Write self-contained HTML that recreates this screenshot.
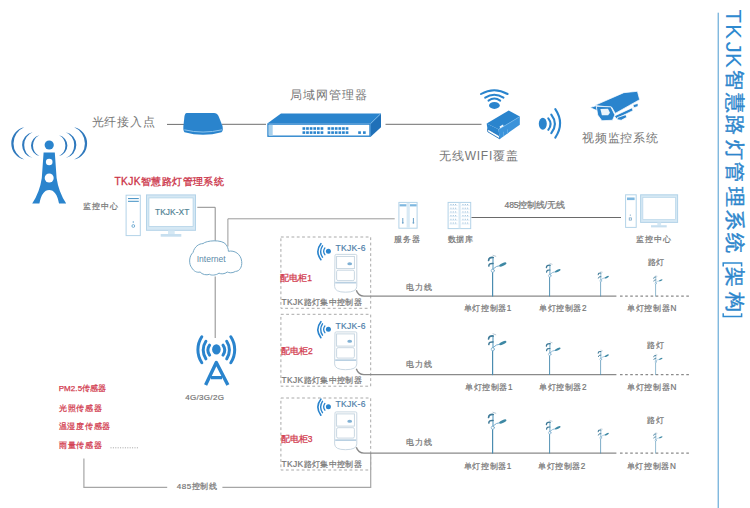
<!DOCTYPE html>
<html><head><meta charset="utf-8"><title>TKJK</title><style>html,body{margin:0;padding:0;background:#fff;width:750px;height:508px;overflow:hidden}</style></head><body>
<svg width="750" height="508" viewBox="0 0 750 508" style="display:block;font-family:'Liberation Sans',sans-serif"><g id="tower">
<path d="M24.20 127.20 A16.62 16.62 0 0 0 24.20 159.60 A17.61 17.61 0 0 1 24.20 127.20 Z" fill="#2f79bd"/><path d="M74.20 127.20 A16.62 16.62 0 0 1 74.20 159.60 A17.61 17.61 0 0 0 74.20 127.20 Z" fill="#2f79bd"/>
<path d="M32.60 132.20 A13.17 13.17 0 0 0 32.60 158.00 A14.11 14.11 0 0 1 32.60 132.20 Z" fill="#2f79bd"/><path d="M65.80 132.20 A13.17 13.17 0 0 1 65.80 158.00 A14.11 14.11 0 0 0 65.80 132.20 Z" fill="#2f79bd"/>
<path d="M39.40 135.20 A10.64 10.64 0 0 0 39.40 156.00 A11.65 11.65 0 0 1 39.40 135.20 Z" fill="#2f79bd"/><path d="M59.00 135.20 A10.64 10.64 0 0 1 59.00 156.00 A11.65 11.65 0 0 0 59.00 135.20 Z" fill="#2f79bd"/>
<circle cx="49.2" cy="145" r="4.6" fill="#2a84cd"/>
<path d="M43.6 152.4 L54.8 152.4 L56.6 178 Q58.6 192 66.2 203.6 L59 203.6 Q56.5 190 49.2 190 Q41.9 190 39.4 203.6 L32.2 203.6 Q39.8 192 41.8 178 Z" fill="#2a84cd"/>
<circle cx="49.2" cy="162" r="3.3" fill="#fff"/><circle cx="49.2" cy="178" r="4.5" fill="#fff"/>
</g>
<path d="M167 124.4 H184 M222 124.3 H266 M385.5 124.3 H481.5" stroke="#6e6e6e" stroke-width="1" fill="none"/>
<path d="M186.5 113 L214 113 Q217 113 218.5 116 L222.5 126 Q223.5 131 221.5 132.2 Q203 137.5 184.5 132.2 Q183 131 183.4 126 L184.5 116 Q185 113 186.5 113 Z" fill="#2a84cd"/>
<path d="M184.3 129.8 Q203 134.3 222 129.8" stroke="#8cc4ee" stroke-width="1" fill="none"/>
<polygon points="281,113.4 381,113.4 370.4,123.4 267.3,123.4" fill="#2a84cd"/>
<polygon points="370.4,123.4 381,113.4 381,127.2 370.4,136.9" fill="#1f70b8"/>
<rect x="268" y="124.1" width="102" height="12.1" fill="#fff" stroke="#2a84cd" stroke-width="1.4"/>
<path d="M370.6 123.6 L380.6 113.8" stroke="#7fc0f0" stroke-width="0.8"/>
<rect x="268.7" y="124.8" width="4" height="10.9" fill="#a8d0ec"/>
<g fill="#2a84cd"><rect x="302.50" y="127.2" width="2.7" height="2.6"/><rect x="302.50" y="131.3" width="2.7" height="2.6"/><rect x="306.12" y="127.2" width="2.7" height="2.6"/><rect x="306.12" y="131.3" width="2.7" height="2.6"/><rect x="309.74" y="127.2" width="2.7" height="2.6"/><rect x="309.74" y="131.3" width="2.7" height="2.6"/><rect x="313.36" y="127.2" width="2.7" height="2.6"/><rect x="313.36" y="131.3" width="2.7" height="2.6"/><rect x="316.98" y="127.2" width="2.7" height="2.6"/><rect x="316.98" y="131.3" width="2.7" height="2.6"/><rect x="320.60" y="127.2" width="2.7" height="2.6"/><rect x="320.60" y="131.3" width="2.7" height="2.6"/><rect x="327.60" y="127.2" width="2.7" height="2.6"/><rect x="327.60" y="131.3" width="2.7" height="2.6"/><rect x="331.22" y="127.2" width="2.7" height="2.6"/><rect x="331.22" y="131.3" width="2.7" height="2.6"/><rect x="334.84" y="127.2" width="2.7" height="2.6"/><rect x="334.84" y="131.3" width="2.7" height="2.6"/><rect x="338.46" y="127.2" width="2.7" height="2.6"/><rect x="338.46" y="131.3" width="2.7" height="2.6"/><rect x="342.08" y="127.2" width="2.7" height="2.6"/><rect x="342.08" y="131.3" width="2.7" height="2.6"/><rect x="345.70" y="127.2" width="2.7" height="2.6"/><rect x="345.70" y="131.3" width="2.7" height="2.6"/><rect x="358.2" y="131.3" width="2.7" height="2.6"/><rect x="363" y="131.3" width="2.7" height="2.6"/></g>
<g fill="none" stroke="#2a84cd" stroke-width="2" stroke-linecap="round"><path d="M481 94 Q494.2 86.6 507.6 94"/><path d="M485.2 97.6 Q494.2 92 503.5 97.6"/><path d="M488.5 100.6 Q494.4 96.6 500.2 100.6"/></g>
<ellipse cx="494.4" cy="105.4" rx="5.4" ry="3.5" fill="#2a84cd"/>
<polygon points="486.7,123.4 487.8,131.8 499.8,138.9 498.5,129.3" fill="#2a84cd"/>
<polygon points="487.6,128.9 499.3,135.8 499.8,138.9 487.8,131.8" fill="#fff" stroke="#1f70b8" stroke-width="0.8" stroke-linejoin="round"/>
<polygon points="498.5,129.3 519.8,116.6 519.8,124.8 499.8,138.9" fill="#3b93da"/>
<polygon points="486.7,123.4 508.7,110.6 519.8,116.6 498.5,129.3" fill="#2a84cd"/>
<path d="M498.6 129.4 L519.6 116.8" stroke="#7cbdf0" stroke-width="0.6"/>
<polygon points="499.6,126.4 503,124.4 503.6,126.2 500.2,128.2" fill="#eef6fc"/>
<path d="M503.5 131.8 V136.2 M507.5 129.4 V133.8" stroke="#6fb2e6" stroke-width="0.7"/>
<ellipse cx="542.8" cy="123.7" rx="4" ry="6" fill="#2a84cd"/>
<g fill="none" stroke="#2a84cd" stroke-width="2.1" stroke-linecap="round"><path d="M548.3 118.4 Q552.9 124.1 548.3 129.8"/><path d="M551.3 114.6 Q558.5 123.9 551.3 133.2"/><path d="M555.3 109.2 Q564.9 123.4 555.3 137.6"/></g>
<g transform="translate(588,88) scale(0.07467)" fill="#2a84cd" stroke="#fff" stroke-width="10" stroke-linejoin="round"><polygon points="99,229 480,62 662,44 692,156 365,340 318,258 120,238"/><polygon points="355,374 593,264 601,304 378,412"/><polygon points="603,224 670,206 670,248 612,264"/><polygon points="392,396 505,358 520,392 445,432 392,424"/><polygon points="26,262 114,236 128,306"/><polygon points="111,245 306,252 360,360 328,432 186,438 130,362"/><polygon points="166,280 268,278 294,330 270,364 186,366" fill="#e9f4fc" stroke="none"/></g>
<line x1="718.2" y1="12.7" x2="718.2" y2="508" stroke="#4a9ad0" stroke-width="1"/>
<text transform="translate(726.4,0) rotate(90)" font-size="22" fill="#2f8ad0"><tspan x="9.4" y="0">T</tspan><tspan x="24.3" y="0">K</tspan><tspan x="41.65" y="0">J</tspan><tspan x="53.1" y="0">K</tspan></text>
<text transform="translate(728.4,0) rotate(90)" font-size="20.4" fill="#2d86cc" stroke="#2d86cc" stroke-width="0.45"><tspan x="69.6" y="0">智</tspan><tspan x="93.0" y="0">慧</tspan><tspan x="114.8" y="0">路</tspan><tspan x="139.9" y="0">灯</tspan><tspan x="162.0" y="0">管</tspan><tspan x="187.3" y="0">理</tspan><tspan x="209.8" y="0">系</tspan><tspan x="233.3" y="0">统</tspan><tspan x="266.7" y="0">架</tspan><tspan x="292.4" y="0">构</tspan></text>
<path d="M723.2 266.6 V263.1 H741.6 V266.6 M723.2 313.2 V316.6 H741.6 V313.2" fill="none" stroke="#2f8ad0" stroke-width="1.5"/>
<rect x="126.1" y="195.2" width="14.2" height="40.4" fill="#fff" stroke="#b3d3e8" stroke-width="1"/>
<path d="M128 198.6 H138.8 M128 201.3 H138.8" stroke="#3f8fc4" stroke-width="1"/>
<circle cx="133.3" cy="222" r="0.8" fill="#6aa8d0"/><circle cx="133.3" cy="226" r="1.4" fill="none" stroke="#6aa8d0" stroke-width="0.9"/>
<rect x="146.5" y="194.9" width="49" height="35.4" fill="#d5e8f4" stroke="#b3d3e8" stroke-width="1"/>
<rect x="148.9" y="197.9" width="44.2" height="28.6" fill="#fff" stroke="#b3d3e8" stroke-width="0.8"/>
<rect x="168" y="230.5" width="6.7" height="3.6" fill="#d5e8f4"/><rect x="160.7" y="234" width="20.6" height="2.7" fill="#c7dfef"/>
<path d="M197.3 207.3 H215.2 V241.5 M215.2 276.5 V338" stroke="#8c8c8c" stroke-width="1" fill="none"/>
<path d="M227.9 246.5 V218.8 H394.7" stroke="#9a9a9a" stroke-width="1" fill="none"/>
<path d="M191.8 267.8 C188.5 264 189 256 193 252.5 C194.5 246.5 199 243.6 203 243.6 C206 240.5 222 239 226 244.5 C227.5 246.5 228.4 249 228.4 251.3 C234.5 250 241 254 241.7 261.5 C242.3 267 239.5 271.4 235.5 271.4 C232 273.5 229 272.8 227.3 272 C224.5 274.2 221 274.3 219 273.1 C216 275.5 211 275.5 209.5 274.3 C206.5 275.5 202 274.5 200.1 272 C197 273 193.5 271 191.8 267.8 Z" fill="#fff" stroke="#78a9c6" stroke-width="1"/>
<ellipse cx="216.4" cy="349.4" rx="4.3" ry="5.2" fill="#2a84cd"/>
<path d="M209.60 345.10 A8.61 8.61 0 0 0 209.60 355.10" fill="none" stroke="#2a84cd" stroke-width="3.0" stroke-linecap="round"/>
<path d="M223.00 345.10 A8.61 8.61 0 0 1 223.00 355.10" fill="none" stroke="#2a84cd" stroke-width="3.0" stroke-linecap="round"/>
<path d="M205.90 341.25 A15.69 15.69 0 0 0 205.90 358.85" fill="none" stroke="#2a84cd" stroke-width="3.0" stroke-linecap="round"/>
<path d="M226.70 341.25 A15.69 15.69 0 0 1 226.70 358.85" fill="none" stroke="#2a84cd" stroke-width="3.0" stroke-linecap="round"/>
<path d="M201.80 336.75 A23.62 23.62 0 0 0 201.80 362.75" fill="none" stroke="#2a84cd" stroke-width="3.0" stroke-linecap="round"/>
<path d="M230.80 336.75 A23.62 23.62 0 0 1 230.80 362.75" fill="none" stroke="#2a84cd" stroke-width="3.0" stroke-linecap="round"/>
<path d="M205.6 385 L216.3 362.5 L227.9 385 M211 377.6 H222" fill="none" stroke="#2a84cd" stroke-width="3.4" stroke-linejoin="round"/>
<line x1="110.5" y1="447.8" x2="138.6" y2="447.8" stroke="#999" stroke-width="0.9" stroke-dasharray="1 1.4"/>
<path d="M83.9 458.4 V487.4 H167.2 M222.4 487.4 H370.7 V453" stroke="#a6a6a6" stroke-width="1.2" fill="none"/>
<rect x="398.9" y="202.4" width="18.2" height="25.8" fill="#fff" stroke="#b3d3e8" stroke-width="1"/>
<rect x="406.6" y="202.9" width="3.2" height="25" fill="#d9eaf5"/>
<rect x="399.6" y="204.2" width="6.8" height="2.2" fill="#7fb8e0"/><rect x="410" y="204.2" width="6.6" height="2.2" fill="#7fb8e0"/>
<path d="M402.8 218 V222.5 M413.4 218 V222.5" stroke="#6aa0c8" stroke-width="1"/>
<circle cx="402.8" cy="222.8" r="0.9" fill="#6aa0c8"/><circle cx="413.4" cy="222.8" r="0.9" fill="#6aa0c8"/>
<rect x="448.1" y="202.4" width="22.6" height="26.2" fill="#fff" stroke="#b3d3e8" stroke-width="1"/>
<rect x="458.5" y="202.9" width="2.2" height="25.4" fill="#d9eaf5"/>
<g stroke="#c9dff0" stroke-width="0.6"><path d="M449.5 205.5 H457.5 M461.5 205.5 H469.5" /><path d="M449.5 209.2 H457.5 M461.5 209.2 H469.5" /><path d="M449.5 212.9 H457.5 M461.5 212.9 H469.5" /><path d="M449.5 216.6 H457.5 M461.5 216.6 H469.5" /><path d="M449.5 220.3 H457.5 M461.5 220.3 H469.5" /><path d="M449.5 224.0 H457.5 M461.5 224.0 H469.5" /></g>
<g fill="#8ab4d4"><rect x="450.5" y="204.0" width="0.9" height="1" /><rect x="452.8" y="204.0" width="0.9" height="1" /><rect x="455.2" y="204.0" width="0.9" height="1" /><rect x="462.5" y="204.0" width="0.9" height="1" /><rect x="464.8" y="204.0" width="0.9" height="1" /><rect x="467.2" y="204.0" width="0.9" height="1" /><rect x="450.5" y="207.7" width="0.9" height="1" /><rect x="452.8" y="207.7" width="0.9" height="1" /><rect x="455.2" y="207.7" width="0.9" height="1" /><rect x="462.5" y="207.7" width="0.9" height="1" /><rect x="464.8" y="207.7" width="0.9" height="1" /><rect x="467.2" y="207.7" width="0.9" height="1" /><rect x="450.5" y="211.4" width="0.9" height="1" /><rect x="452.8" y="211.4" width="0.9" height="1" /><rect x="455.2" y="211.4" width="0.9" height="1" /><rect x="462.5" y="211.4" width="0.9" height="1" /><rect x="464.8" y="211.4" width="0.9" height="1" /><rect x="467.2" y="211.4" width="0.9" height="1" /><rect x="450.5" y="215.1" width="0.9" height="1" /><rect x="452.8" y="215.1" width="0.9" height="1" /><rect x="455.2" y="215.1" width="0.9" height="1" /><rect x="462.5" y="215.1" width="0.9" height="1" /><rect x="464.8" y="215.1" width="0.9" height="1" /><rect x="467.2" y="215.1" width="0.9" height="1" /><rect x="450.5" y="218.8" width="0.9" height="1" /><rect x="452.8" y="218.8" width="0.9" height="1" /><rect x="455.2" y="218.8" width="0.9" height="1" /><rect x="462.5" y="218.8" width="0.9" height="1" /><rect x="464.8" y="218.8" width="0.9" height="1" /><rect x="467.2" y="218.8" width="0.9" height="1" /><rect x="450.5" y="222.5" width="0.9" height="1" /><rect x="452.8" y="222.5" width="0.9" height="1" /><rect x="455.2" y="222.5" width="0.9" height="1" /><rect x="462.5" y="222.5" width="0.9" height="1" /><rect x="464.8" y="222.5" width="0.9" height="1" /><rect x="467.2" y="222.5" width="0.9" height="1" /></g>
<path d="M471.5 217.5 H621" stroke="#6a6a6a" stroke-width="1" fill="none"/>
<rect x="625.6" y="194.8" width="10.6" height="32.6" fill="#fff" stroke="#b3d3e8" stroke-width="1"/>
<rect x="627" y="197.5" width="7.6" height="2.6" fill="#7fb8e0"/>
<circle cx="630.3" cy="215.1" r="0.6" fill="#6a9cc0"/><rect x="629.2" y="217.9" width="2.2" height="2.2" fill="none" stroke="#6a9cc0" stroke-width="0.7"/>
<rect x="640.6" y="194.8" width="37" height="27.6" fill="#d5e8f4" stroke="#b3d3e8" stroke-width="1"/>
<rect x="642.9" y="197.6" width="32.4" height="21.8" fill="#fff" stroke="#b3d3e8" stroke-width="0.6"/>
<rect x="657.3" y="222.5" width="3.8" height="3" fill="#d5e8f4"/><rect x="651" y="225.2" width="15.7" height="2.2" fill="#c7dfef"/>
<rect x="280.9" y="237" width="89.8" height="71.3" fill="none" stroke="#a9a9a9" stroke-width="1" stroke-dasharray="2.8 2.5"/>
<rect x="280.9" y="314.3" width="89.8" height="71.9" fill="none" stroke="#a9a9a9" stroke-width="1" stroke-dasharray="2.8 2.5"/>
<rect x="280.9" y="398" width="89.8" height="72.0" fill="none" stroke="#a9a9a9" stroke-width="1" stroke-dasharray="2.8 2.5"/>
<circle cx="328.4" cy="251.3" r="2.5" fill="#2a84cd"/>
<g fill="none" stroke="#2a84cd" stroke-linecap="round"><path d="M324.9 247.9 Q322.4 251.3 324.9 254.70000000000002" stroke-width="1.3"/><path d="M322.5 245.8 Q318.8 251.3 322.5 257.2" stroke-width="1.4"/><path d="M320.9 243.70000000000002 Q314.8 251.3 320.9 259.7" stroke-width="1.6"/></g>
<g fill="none" stroke="#c3d3df" stroke-width="0.9"><path d="M335 255.4 Q335 254.4 336.4 254.4 H355.4 Q356.8 254.4 356.8 255.4 V286.4 Q356.8 292.2 345.6 292.2 Q334.6 292.2 334.6 286.4 Z" fill="#fff"/><rect x="336.6" y="256.4" width="17.8" height="12.2"/><rect x="336.6" y="270.2" width="17.8" height="10.4" rx="1.5"/></g>
<rect x="335.2" y="281.8" width="21" height="1.7" fill="#b9d0e2"/>
<ellipse cx="349.7" cy="263.8" rx="2.4" ry="1.5" fill="#7fb0d4"/>
<path d="M356.3 290.3 Q358.3 296.1 364 296.1 H616.4" fill="none" stroke="#8a8a8a" stroke-width="1.4"/>
<line x1="620" y1="296.1" x2="691" y2="296.1" stroke="#8a8a8a" stroke-width="1.4" stroke-dasharray="2.6 2.5"/>
<circle cx="328.4" cy="329.3" r="2.5" fill="#2a84cd"/>
<g fill="none" stroke="#2a84cd" stroke-linecap="round"><path d="M324.9 325.90000000000003 Q322.4 329.3 324.9 332.7" stroke-width="1.3"/><path d="M322.5 323.8 Q318.8 329.3 322.5 335.2" stroke-width="1.4"/><path d="M320.9 321.7 Q314.8 329.3 320.9 337.7" stroke-width="1.6"/></g>
<g fill="none" stroke="#c3d3df" stroke-width="0.9"><path d="M335 332.9 Q335 331.9 336.4 331.9 H355.4 Q356.8 331.9 356.8 332.9 V363.9 Q356.8 369.7 345.6 369.7 Q334.6 369.7 334.6 363.9 Z" fill="#fff"/><rect x="336.6" y="333.9" width="17.8" height="12.2"/><rect x="336.6" y="347.7" width="17.8" height="10.4" rx="1.5"/></g>
<rect x="335.2" y="359.29999999999995" width="21" height="1.7" fill="#b9d0e2"/>
<ellipse cx="349.7" cy="341.29999999999995" rx="2.4" ry="1.5" fill="#7fb0d4"/>
<path d="M356.3 368.8 Q358.3 374.6 364 374.6 H616.4" fill="none" stroke="#8a8a8a" stroke-width="1.4"/>
<line x1="620" y1="374.6" x2="691" y2="374.6" stroke="#8a8a8a" stroke-width="1.4" stroke-dasharray="2.6 2.5"/>
<circle cx="328.4" cy="406.8" r="2.5" fill="#2a84cd"/>
<g fill="none" stroke="#2a84cd" stroke-linecap="round"><path d="M324.9 403.40000000000003 Q322.4 406.8 324.9 410.2" stroke-width="1.3"/><path d="M322.5 401.3 Q318.8 406.8 322.5 412.7" stroke-width="1.4"/><path d="M320.9 399.2 Q314.8 406.8 320.9 415.2" stroke-width="1.6"/></g>
<g fill="none" stroke="#c3d3df" stroke-width="0.9"><path d="M335 412.9 Q335 411.9 336.4 411.9 H355.4 Q356.8 411.9 356.8 412.9 V443.9 Q356.8 449.7 345.6 449.7 Q334.6 449.7 334.6 443.9 Z" fill="#fff"/><rect x="336.6" y="413.9" width="17.8" height="12.2"/><rect x="336.6" y="427.7" width="17.8" height="10.4" rx="1.5"/></g>
<rect x="335.2" y="439.29999999999995" width="21" height="1.7" fill="#b9d0e2"/>
<ellipse cx="349.7" cy="421.29999999999995" rx="2.4" ry="1.5" fill="#7fb0d4"/>
<path d="M356.3 447.3 Q358.3 453.1 364 453.1 H616.4" fill="none" stroke="#8a8a8a" stroke-width="1.4"/>
<line x1="620" y1="453.1" x2="691" y2="453.1" stroke="#8a8a8a" stroke-width="1.4" stroke-dasharray="2.6 2.5"/>
<g transform="translate(492.6,296.1) scale(1.0)" fill="none" stroke-linecap="round"><path d="M0 0 V-23.4" stroke="#4a8cb0" stroke-width="1.2"/><circle cx="0.2" cy="-25.4" r="1.6" stroke="#7aaccc" stroke-width="0.8"/><path d="M0.4 -27 V-38.4" stroke="#5a9cc0" stroke-width="1.1"/><path d="M0.6 -38.6 Q-3.8 -39 -4 -35.6" stroke="#3f7a98" stroke-width="1.7"/><path d="M0.4 -32.6 Q-3.6 -33 -3.8 -30" stroke="#3f7a98" stroke-width="1.5"/><path d="M0.4 -40.8 L3.2 -39.8" stroke="#b8c8d4" stroke-width="1"/><path d="M0.8 -27.4 Q3.8 -30.4 7 -30.4" stroke="#7aaccc" stroke-width="1"/><ellipse cx="10.2" cy="-31.6" rx="3.9" ry="1.35" transform="rotate(-24 10.2 -31.6)" fill="#3d88a4" stroke="none"/></g>
<g transform="translate(549.6,296.1) scale(0.8)" fill="none" stroke-linecap="round"><path d="M0 0 V-23.4" stroke="#4a8cb0" stroke-width="1.2"/><circle cx="0.2" cy="-25.4" r="1.6" stroke="#7aaccc" stroke-width="0.8"/><path d="M0.4 -27 V-38.4" stroke="#5a9cc0" stroke-width="1.1"/><path d="M0.6 -38.6 Q-3.8 -39 -4 -35.6" stroke="#3f7a98" stroke-width="1.7"/><path d="M0.4 -32.6 Q-3.6 -33 -3.8 -30" stroke="#3f7a98" stroke-width="1.5"/><path d="M0.4 -40.8 L3.2 -39.8" stroke="#b8c8d4" stroke-width="1"/><path d="M0.8 -27.4 Q3.8 -30.4 7 -30.4" stroke="#7aaccc" stroke-width="1"/><ellipse cx="10.2" cy="-31.6" rx="3.9" ry="1.35" transform="rotate(-24 10.2 -31.6)" fill="#3d88a4" stroke="none"/></g>
<g transform="translate(600.6,296.1) scale(0.6)" fill="none" stroke-linecap="round"><path d="M0 0 V-23.4" stroke="#4a8cb0" stroke-width="1.2"/><circle cx="0.2" cy="-25.4" r="1.6" stroke="#7aaccc" stroke-width="0.8"/><path d="M0.4 -27 V-38.4" stroke="#5a9cc0" stroke-width="1.1"/><path d="M0.6 -38.6 Q-3.8 -39 -4 -35.6" stroke="#3f7a98" stroke-width="1.7"/><path d="M0.4 -32.6 Q-3.6 -33 -3.8 -30" stroke="#3f7a98" stroke-width="1.5"/><path d="M0.4 -40.8 L3.2 -39.8" stroke="#b8c8d4" stroke-width="1"/><path d="M0.8 -27.4 Q3.8 -30.4 7 -30.4" stroke="#7aaccc" stroke-width="1"/><ellipse cx="10.2" cy="-31.6" rx="3.9" ry="1.35" transform="rotate(-24 10.2 -31.6)" fill="#3d88a4" stroke="none"/></g>
<g transform="translate(655.6,296.1) scale(0.5)" fill="none" stroke-linecap="round"><path d="M0 0 V-23.4" stroke="#4a8cb0" stroke-width="1.2"/><circle cx="0.2" cy="-25.4" r="1.6" stroke="#7aaccc" stroke-width="0.8"/><path d="M0.4 -27 V-38.4" stroke="#5a9cc0" stroke-width="1.1"/><path d="M0.6 -38.6 Q-3.8 -39 -4 -35.6" stroke="#3f7a98" stroke-width="1.7"/><path d="M0.4 -32.6 Q-3.6 -33 -3.8 -30" stroke="#3f7a98" stroke-width="1.5"/><path d="M0.4 -40.8 L3.2 -39.8" stroke="#b8c8d4" stroke-width="1"/><path d="M0.8 -27.4 Q3.8 -30.4 7 -30.4" stroke="#7aaccc" stroke-width="1"/><ellipse cx="10.2" cy="-31.6" rx="3.9" ry="1.35" transform="rotate(-24 10.2 -31.6)" fill="#3d88a4" stroke="none"/></g>
<g transform="translate(492.6,374.6) scale(1.0)" fill="none" stroke-linecap="round"><path d="M0 0 V-23.4" stroke="#4a8cb0" stroke-width="1.2"/><circle cx="0.2" cy="-25.4" r="1.6" stroke="#7aaccc" stroke-width="0.8"/><path d="M0.4 -27 V-38.4" stroke="#5a9cc0" stroke-width="1.1"/><path d="M0.6 -38.6 Q-3.8 -39 -4 -35.6" stroke="#3f7a98" stroke-width="1.7"/><path d="M0.4 -32.6 Q-3.6 -33 -3.8 -30" stroke="#3f7a98" stroke-width="1.5"/><path d="M0.4 -40.8 L3.2 -39.8" stroke="#b8c8d4" stroke-width="1"/><path d="M0.8 -27.4 Q3.8 -30.4 7 -30.4" stroke="#7aaccc" stroke-width="1"/><ellipse cx="10.2" cy="-31.6" rx="3.9" ry="1.35" transform="rotate(-24 10.2 -31.6)" fill="#3d88a4" stroke="none"/></g>
<g transform="translate(549.6,374.6) scale(0.8)" fill="none" stroke-linecap="round"><path d="M0 0 V-23.4" stroke="#4a8cb0" stroke-width="1.2"/><circle cx="0.2" cy="-25.4" r="1.6" stroke="#7aaccc" stroke-width="0.8"/><path d="M0.4 -27 V-38.4" stroke="#5a9cc0" stroke-width="1.1"/><path d="M0.6 -38.6 Q-3.8 -39 -4 -35.6" stroke="#3f7a98" stroke-width="1.7"/><path d="M0.4 -32.6 Q-3.6 -33 -3.8 -30" stroke="#3f7a98" stroke-width="1.5"/><path d="M0.4 -40.8 L3.2 -39.8" stroke="#b8c8d4" stroke-width="1"/><path d="M0.8 -27.4 Q3.8 -30.4 7 -30.4" stroke="#7aaccc" stroke-width="1"/><ellipse cx="10.2" cy="-31.6" rx="3.9" ry="1.35" transform="rotate(-24 10.2 -31.6)" fill="#3d88a4" stroke="none"/></g>
<g transform="translate(600.6,374.6) scale(0.6)" fill="none" stroke-linecap="round"><path d="M0 0 V-23.4" stroke="#4a8cb0" stroke-width="1.2"/><circle cx="0.2" cy="-25.4" r="1.6" stroke="#7aaccc" stroke-width="0.8"/><path d="M0.4 -27 V-38.4" stroke="#5a9cc0" stroke-width="1.1"/><path d="M0.6 -38.6 Q-3.8 -39 -4 -35.6" stroke="#3f7a98" stroke-width="1.7"/><path d="M0.4 -32.6 Q-3.6 -33 -3.8 -30" stroke="#3f7a98" stroke-width="1.5"/><path d="M0.4 -40.8 L3.2 -39.8" stroke="#b8c8d4" stroke-width="1"/><path d="M0.8 -27.4 Q3.8 -30.4 7 -30.4" stroke="#7aaccc" stroke-width="1"/><ellipse cx="10.2" cy="-31.6" rx="3.9" ry="1.35" transform="rotate(-24 10.2 -31.6)" fill="#3d88a4" stroke="none"/></g>
<g transform="translate(655.6,374.6) scale(0.5)" fill="none" stroke-linecap="round"><path d="M0 0 V-23.4" stroke="#4a8cb0" stroke-width="1.2"/><circle cx="0.2" cy="-25.4" r="1.6" stroke="#7aaccc" stroke-width="0.8"/><path d="M0.4 -27 V-38.4" stroke="#5a9cc0" stroke-width="1.1"/><path d="M0.6 -38.6 Q-3.8 -39 -4 -35.6" stroke="#3f7a98" stroke-width="1.7"/><path d="M0.4 -32.6 Q-3.6 -33 -3.8 -30" stroke="#3f7a98" stroke-width="1.5"/><path d="M0.4 -40.8 L3.2 -39.8" stroke="#b8c8d4" stroke-width="1"/><path d="M0.8 -27.4 Q3.8 -30.4 7 -30.4" stroke="#7aaccc" stroke-width="1"/><ellipse cx="10.2" cy="-31.6" rx="3.9" ry="1.35" transform="rotate(-24 10.2 -31.6)" fill="#3d88a4" stroke="none"/></g>
<g transform="translate(492.6,453.1) scale(1.0)" fill="none" stroke-linecap="round"><path d="M0 0 V-23.4" stroke="#4a8cb0" stroke-width="1.2"/><circle cx="0.2" cy="-25.4" r="1.6" stroke="#7aaccc" stroke-width="0.8"/><path d="M0.4 -27 V-38.4" stroke="#5a9cc0" stroke-width="1.1"/><path d="M0.6 -38.6 Q-3.8 -39 -4 -35.6" stroke="#3f7a98" stroke-width="1.7"/><path d="M0.4 -32.6 Q-3.6 -33 -3.8 -30" stroke="#3f7a98" stroke-width="1.5"/><path d="M0.4 -40.8 L3.2 -39.8" stroke="#b8c8d4" stroke-width="1"/><path d="M0.8 -27.4 Q3.8 -30.4 7 -30.4" stroke="#7aaccc" stroke-width="1"/><ellipse cx="10.2" cy="-31.6" rx="3.9" ry="1.35" transform="rotate(-24 10.2 -31.6)" fill="#3d88a4" stroke="none"/></g>
<g transform="translate(549.6,453.1) scale(0.8)" fill="none" stroke-linecap="round"><path d="M0 0 V-23.4" stroke="#4a8cb0" stroke-width="1.2"/><circle cx="0.2" cy="-25.4" r="1.6" stroke="#7aaccc" stroke-width="0.8"/><path d="M0.4 -27 V-38.4" stroke="#5a9cc0" stroke-width="1.1"/><path d="M0.6 -38.6 Q-3.8 -39 -4 -35.6" stroke="#3f7a98" stroke-width="1.7"/><path d="M0.4 -32.6 Q-3.6 -33 -3.8 -30" stroke="#3f7a98" stroke-width="1.5"/><path d="M0.4 -40.8 L3.2 -39.8" stroke="#b8c8d4" stroke-width="1"/><path d="M0.8 -27.4 Q3.8 -30.4 7 -30.4" stroke="#7aaccc" stroke-width="1"/><ellipse cx="10.2" cy="-31.6" rx="3.9" ry="1.35" transform="rotate(-24 10.2 -31.6)" fill="#3d88a4" stroke="none"/></g>
<g transform="translate(600.6,453.1) scale(0.6)" fill="none" stroke-linecap="round"><path d="M0 0 V-23.4" stroke="#4a8cb0" stroke-width="1.2"/><circle cx="0.2" cy="-25.4" r="1.6" stroke="#7aaccc" stroke-width="0.8"/><path d="M0.4 -27 V-38.4" stroke="#5a9cc0" stroke-width="1.1"/><path d="M0.6 -38.6 Q-3.8 -39 -4 -35.6" stroke="#3f7a98" stroke-width="1.7"/><path d="M0.4 -32.6 Q-3.6 -33 -3.8 -30" stroke="#3f7a98" stroke-width="1.5"/><path d="M0.4 -40.8 L3.2 -39.8" stroke="#b8c8d4" stroke-width="1"/><path d="M0.8 -27.4 Q3.8 -30.4 7 -30.4" stroke="#7aaccc" stroke-width="1"/><ellipse cx="10.2" cy="-31.6" rx="3.9" ry="1.35" transform="rotate(-24 10.2 -31.6)" fill="#3d88a4" stroke="none"/></g>
<g transform="translate(655.6,453.1) scale(0.5)" fill="none" stroke-linecap="round"><path d="M0 0 V-23.4" stroke="#4a8cb0" stroke-width="1.2"/><circle cx="0.2" cy="-25.4" r="1.6" stroke="#7aaccc" stroke-width="0.8"/><path d="M0.4 -27 V-38.4" stroke="#5a9cc0" stroke-width="1.1"/><path d="M0.6 -38.6 Q-3.8 -39 -4 -35.6" stroke="#3f7a98" stroke-width="1.7"/><path d="M0.4 -32.6 Q-3.6 -33 -3.8 -30" stroke="#3f7a98" stroke-width="1.5"/><path d="M0.4 -40.8 L3.2 -39.8" stroke="#b8c8d4" stroke-width="1"/><path d="M0.8 -27.4 Q3.8 -30.4 7 -30.4" stroke="#7aaccc" stroke-width="1"/><ellipse cx="10.2" cy="-31.6" rx="3.9" ry="1.35" transform="rotate(-24 10.2 -31.6)" fill="#3d88a4" stroke="none"/></g>
<text x="91.6" y="126.4" font-size="12" letter-spacing="0.85" fill="#777777">光纤接入点</text>
<text x="290.4" y="99.1" font-size="12" letter-spacing="0.84" fill="#767676">局域网管理器</text>
<text x="439.2" y="159.9" font-size="12" letter-spacing="0.743" fill="#777777">无线WIFI覆盖</text>
<text x="582" y="142.3" font-size="12" letter-spacing="0.76" fill="#777777">视频监控系统</text>
<text x="114.5" y="185.1" font-size="10.2" letter-spacing="0.4" fill="#cc3348" stroke="#cc3348" stroke-width="0.3">TKJK智慧路灯管理系统</text>
<text x="83.3" y="208.9" font-size="8.4" letter-spacing="0.87" fill="#757575" stroke="#757575" stroke-width="0.2">监控中心</text>
<text x="155" y="215.3" font-size="8.4" letter-spacing="0.05" fill="#4f7f92" stroke="#4f7f92" stroke-width="0.15">TKJK-XT</text>
<text x="196.7" y="261.65" font-size="8.5" letter-spacing="0.029" fill="#5a8aa8">Internet</text>
<text x="393.7" y="241.85" font-size="8" letter-spacing="1.15" fill="#757575" stroke="#757575" stroke-width="0.2">服务器</text>
<text x="447.7" y="242.35" font-size="8" letter-spacing="0.65" fill="#757575" stroke="#757575" stroke-width="0.2">数据库</text>
<text x="504.6" y="208.3" font-size="8.6" letter-spacing="-0.2" fill="#757575" stroke="#757575" stroke-width="0.2">485控制线/无线</text>
<text x="636" y="242.2" font-size="8.4" letter-spacing="0.87" fill="#757575" stroke="#757575" stroke-width="0.2">监控中心</text>
<text x="185.3" y="400.45" font-size="8" letter-spacing="0.3" fill="#757575" stroke="#757575" stroke-width="0.2">4G/3G/2G</text>
<text x="58.7" y="391.3" font-size="8" letter-spacing="0.071" fill="#d23a4e" stroke="#d23a4e" stroke-width="0.25">PM2.5传感器</text>
<text x="58.7" y="410.55" font-size="8" letter-spacing="0.825" fill="#d23a4e" stroke="#d23a4e" stroke-width="0.25">光照传感器</text>
<text x="58.7" y="429.4" font-size="8" letter-spacing="0.74" fill="#d23a4e" stroke="#d23a4e" stroke-width="0.25">温湿度传感器</text>
<text x="58.7" y="447.75" font-size="8" letter-spacing="0.825" fill="#d23a4e" stroke="#d23a4e" stroke-width="0.25">雨量传感器</text>
<text x="176.8" y="489.45" font-size="8" letter-spacing="0.52" fill="#757575" stroke="#757575" stroke-width="0.2">485控制线</text>
<text x="335.6" y="251.0" font-size="8.6" letter-spacing="0.24" fill="#4a7ca8" stroke="#4a7ca8" stroke-width="0.15">TKJK-6</text>
<text x="280.4" y="280.6" font-size="8.5" letter-spacing="-0.033" fill="#d23a4e" stroke="#d23a4e" stroke-width="0.25">配电柜1</text>
<text x="281.4" y="304.9" font-size="8.45" letter-spacing="0.38" fill="#757575" stroke="#757575" stroke-width="0.2">TKJK路灯集中控制器</text>
<text x="406.3" y="289.8" font-size="8.2" letter-spacing="0.8" fill="#757575" stroke="#757575" stroke-width="0.2">电力线</text>
<text x="463.9" y="311.2" font-size="8.2" letter-spacing="0.58" fill="#757575" stroke="#757575" stroke-width="0.2">单灯控制器1</text>
<text x="539.4" y="311.05" font-size="8.2" letter-spacing="0.52" fill="#757575" stroke="#757575" stroke-width="0.2">单灯控制器2</text>
<text x="627" y="311.05" font-size="8.2" letter-spacing="0.7" fill="#757575" stroke="#757575" stroke-width="0.2">单灯控制器N</text>
<text x="647.7" y="264.55" font-size="8.2" letter-spacing="0.8" fill="#757575" stroke="#757575" stroke-width="0.2">路灯</text>
<text x="335.6" y="328.5" font-size="8.6" letter-spacing="0.24" fill="#4a7ca8" stroke="#4a7ca8" stroke-width="0.15">TKJK-6</text>
<text x="280.9" y="354.25" font-size="8.5" letter-spacing="0.067" fill="#d23a4e" stroke="#d23a4e" stroke-width="0.25">配电柜2</text>
<text x="281.4" y="382.55" font-size="8.45" letter-spacing="0.38" fill="#757575" stroke="#757575" stroke-width="0.2">TKJK路灯集中控制器</text>
<text x="406.3" y="367.3" font-size="8.2" letter-spacing="0.8" fill="#757575" stroke="#757575" stroke-width="0.2">电力线</text>
<text x="465" y="389.7" font-size="8.2" letter-spacing="0.58" fill="#757575" stroke="#757575" stroke-width="0.2">单灯控制器1</text>
<text x="539.4" y="389.9" font-size="8.2" letter-spacing="0.52" fill="#757575" stroke="#757575" stroke-width="0.2">单灯控制器2</text>
<text x="627" y="389.9" font-size="8.2" letter-spacing="0.7" fill="#757575" stroke="#757575" stroke-width="0.2">单灯控制器N</text>
<text x="647.2" y="348.15" font-size="8.2" letter-spacing="0.8" fill="#757575" stroke="#757575" stroke-width="0.2">路灯</text>
<text x="335.6" y="406.8" font-size="8.6" letter-spacing="0.24" fill="#4a7ca8" stroke="#4a7ca8" stroke-width="0.15">TKJK-6</text>
<text x="280.9" y="442.2" font-size="8.5" letter-spacing="-0.033" fill="#d23a4e" stroke="#d23a4e" stroke-width="0.25">配电柜3</text>
<text x="281.4" y="466.6" font-size="8.45" letter-spacing="0.38" fill="#757575" stroke="#757575" stroke-width="0.2">TKJK路灯集中控制器</text>
<text x="406.3" y="445.2" font-size="8.2" letter-spacing="0.8" fill="#757575" stroke="#757575" stroke-width="0.2">电力线</text>
<text x="463.9" y="469.15" font-size="8.2" letter-spacing="0.58" fill="#757575" stroke="#757575" stroke-width="0.2">单灯控制器1</text>
<text x="538.2" y="468.5" font-size="8.2" letter-spacing="0.52" fill="#757575" stroke="#757575" stroke-width="0.2">单灯控制器2</text>
<text x="626.5" y="468.5" font-size="8.2" letter-spacing="0.7" fill="#757575" stroke="#757575" stroke-width="0.2">单灯控制器N</text>
<text x="647.2" y="423.4" font-size="8.2" letter-spacing="0.8" fill="#757575" stroke="#757575" stroke-width="0.2">路灯</text></svg>
</body></html>
